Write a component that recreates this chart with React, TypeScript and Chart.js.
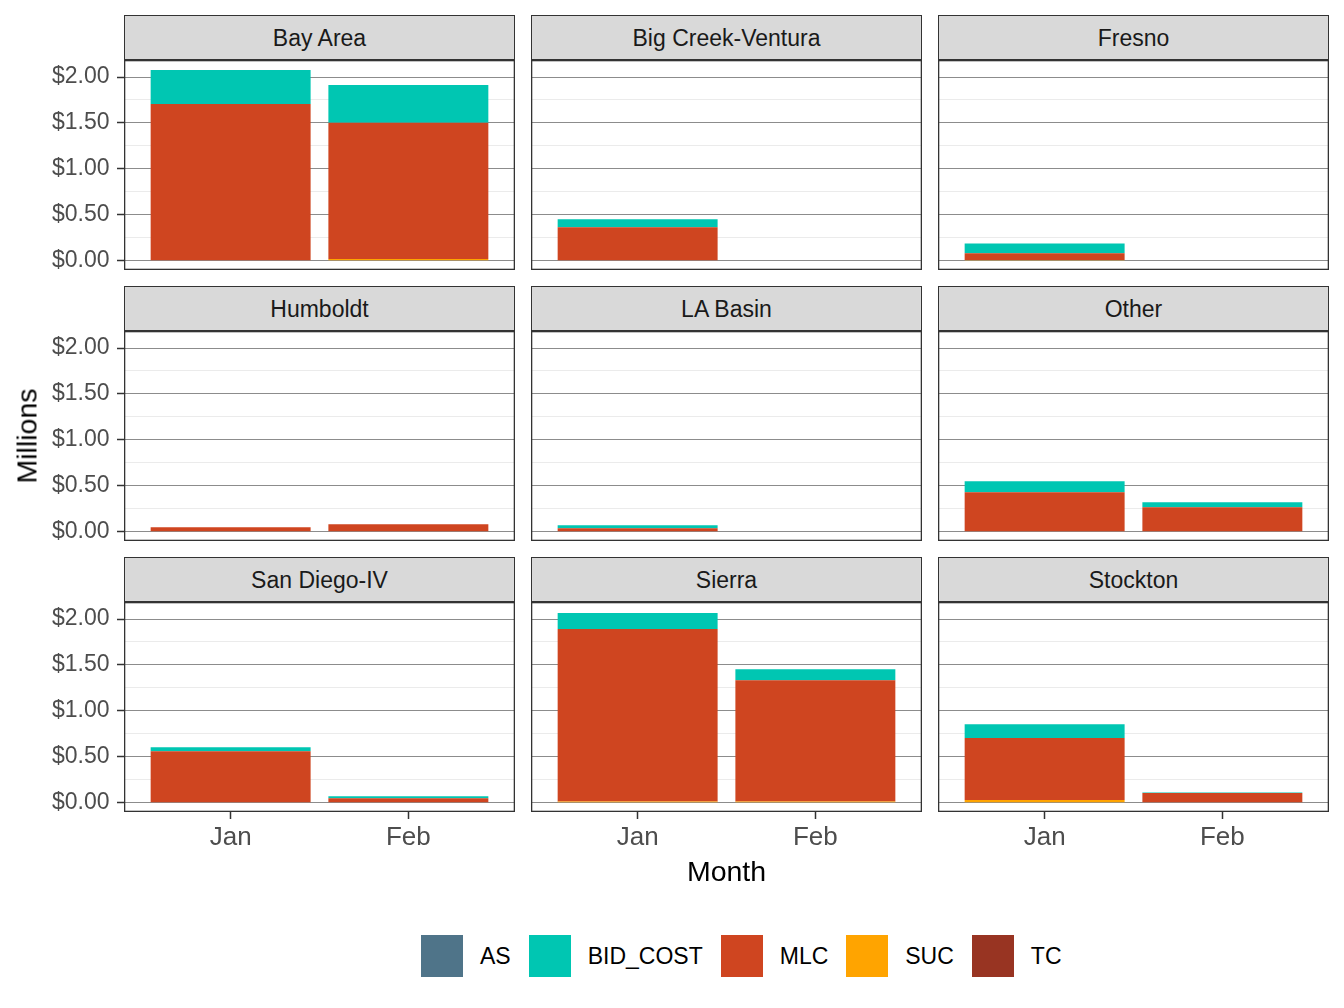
import { useEffect, useRef } from "react";
import { Chart, registerables } from "chart.js";

Chart.register(...registerables);

const FONT = "'Liberation Sans', Arial, Helvetica, sans-serif";

const regions = [
  "Bay Area",
  "Big Creek-Ventura",
  "Fresno",
  "Humboldt",
  "LA Basin",
  "Other",
  "San Diego-IV",
  "Sierra",
  "Stockton",
];
const months = ["Jan", "Feb"];

const seriesNames = ["AS", "BID_COST", "MLC", "SUC", "TC"];
const seriesColors = ["#4F7489", "#00C6B2", "#CF4520", "#FFA400", "#983422"];

// millions, one [Jan, Feb] pair per region
const asCost = [
  [0, 0], [0, 0], [0, 0],
  [0, 0], [0, 0], [0, 0],
  [0, 0], [0, 0], [0, 0],
];
const bidCost = [
  [0.37, 0.41], [0.087, 0], [0.105, 0],
  [0, 0], [0.033, 0], [0.12, 0.054],
  [0.044, 0.022], [0.174, 0.12], [0.149, 0.004],
];
const mlcCost = [
  [1.7, 1.483], [0.365, 0], [0.072, 0],
  [0.049, 0.082], [0.038, 0], [0.425, 0.267],
  [0.561, 0.049], [1.875, 1.319], [0.676, 0.107],
];
const sucCost = [
  [0, 0.02], [0, 0], [0.01, 0],
  [0, 0], [0, 0], [0.005, 0],
  [0, 0], [0.015, 0.015], [0.03, 0],
];
const tcCost = [
  [0.005, 0], [0, 0], [0, 0],
  [0, 0], [0, 0], [0, 0],
  [0, 0], [0, 0], [0, 0],
];
const seriesValues = [asCost, bidCost, mlcCost, sucCost, tcCost];

const yMajorTicks = [0, 0.5, 1, 1.5, 2];
const yMinorTicks = [0.25, 0.75, 1.25, 1.75];

// layout (px)
const COL_X = [124, 531, 938];
const STRIP_TOP = [15, 286, 557];
const STRIP_H = 45;
const PANEL_W = 391;
const PANEL_H = 210;
const Y_AXIS_W = 124;
const X_AXIS_H = 50;

// ggplot stacks the first factor level on top, so draw from the last one up
const stackOrder = [4, 3, 2, 1, 0];

const panelBorder = {
  id: "panelBorder",
  afterDraw(chart: Chart) {
    const { ctx, chartArea: a } = chart;
    ctx.save();
    ctx.strokeStyle = "#333333";
    ctx.lineWidth = 1.3;
    ctx.strokeRect(a.left + 0.65, a.top + 0.65, a.right - a.left - 1.3, a.bottom - a.top - 1.3);
    ctx.restore();
  },
};

const isMajor = (v: number) => yMajorTicks.some((t) => Math.abs(t - v) < 1e-6);

function Panel({ index }: { index: number }) {
  const chartRef = useRef<HTMLCanvasElement>(null);
  const chartInstance = useRef<Chart | null>(null);
  const col = index % 3;
  const row = Math.floor(index / 3);
  const showY = col === 0;
  const showX = row === 2;

  useEffect(() => {
    if (!chartRef.current) return;
    if (chartInstance.current) chartInstance.current.destroy();
    const ctx = chartRef.current.getContext("2d");
    if (!ctx) return;

    chartInstance.current = new Chart(ctx, {
      type: "bar",
      data: {
        datasets: stackOrder.map((k) => ({
          label: seriesNames[k],
          data: months.map((_, j) => ({ x: j + 1, y: seriesValues[k][index][j] })),
          backgroundColor: seriesColors[k],
          borderWidth: 0,
          barPercentage: 0.9,
          categoryPercentage: 1,
          stack: "cost",
        })),
      },
      options: {
        animation: false,
        responsive: true,
        maintainAspectRatio: false,
        layout: { padding: 0 },
        plugins: {
          legend: { display: false },
          tooltip: { enabled: false },
        },
        scales: {
          x: {
            type: "linear",
            min: 0.4,
            max: 2.6,
            offset: false,
            stacked: true,
            display: showX,
            border: { display: false },
            grid: {
              display: true,
              offset: false,
              drawOnChartArea: false,
              drawTicks: true,
              tickLength: 7,
              tickColor: "#333333",
              tickWidth: 1.5,
            },
            afterBuildTicks: (s: any) => {
              s.ticks = months.map((_, j) => ({ value: j + 1 }));
            },
            afterFit: (s: any) => {
              s.height = showX ? X_AXIS_H : 0;
              s.paddingLeft = 0;
              s.paddingRight = 0;
            },
            ticks: {
              callback: (v: any) => months[Number(v) - 1] ?? "",
              color: "#4D4D4D",
              font: { family: FONT, size: 26 },
              padding: 3,
              maxRotation: 0,
              autoSkip: false,
            },
          },
          y: {
            type: "linear",
            min: -0.1,
            max: 2.185,
            stacked: true,
            border: { display: false },
            grid: {
              color: (c: any) => (isMajor(c.tick?.value ?? 0) ? "#8C8C8C" : "#EBEBEB"),
              lineWidth: 1,
              drawTicks: showY,
              tickLength: 7,
              tickColor: (c: any) => (isMajor(c.tick?.value ?? 0) ? "#333333" : "rgba(0,0,0,0)"),
              tickWidth: 1.5,
            },
            afterBuildTicks: (s: any) => {
              s.ticks = [...yMajorTicks, ...yMinorTicks]
                .sort((a, b) => a - b)
                .map((v) => ({ value: v }));
            },
            afterFit: (s: any) => {
              s.width = showY ? Y_AXIS_W : 0;
              s.paddingTop = 0;
              s.paddingBottom = 0;
            },
            ticks: {
              display: showY,
              callback: (v: any) => (isMajor(Number(v)) ? "$" + Number(v).toFixed(2) : ""),
              color: "#4D4D4D",
              font: { family: FONT, size: 23 },
              padding: 7.5,
              autoSkip: false,
            },
          },
        },
      },
      plugins: [panelBorder],
    });

    return () => {
      if (chartInstance.current) {
        chartInstance.current.destroy();
        chartInstance.current = null;
      }
    };
  }, [index]);

  const left = showY ? COL_X[col] - Y_AXIS_W : COL_X[col];
  const top = STRIP_TOP[row] + STRIP_H;

  return (
    <>
      <div
        style={{
          position: "absolute",
          left: COL_X[col],
          top: STRIP_TOP[row],
          width: PANEL_W,
          height: STRIP_H,
          boxSizing: "border-box",
          border: "1.3px solid #333333",
          background: "#D9D9D9",
          display: "flex",
          alignItems: "center",
          justifyContent: "center",
          paddingTop: 1,
          fontFamily: FONT,
          fontSize: 23,
          color: "#1A1A1A",
        }}
      >
        {regions[index]}
      </div>
      <div
        style={{
          position: "absolute",
          left,
          top,
          width: PANEL_W + (showY ? Y_AXIS_W : 0),
          height: PANEL_H + (showX ? X_AXIS_H : 0),
        }}
      >
        <canvas ref={chartRef} />
      </div>
    </>
  );
}

export default function App() {
  return (
    <div
      style={{
        position: "absolute",
        left: 0,
        top: 0,
        width: 1344,
        height: 1008,
        background: "#FFFFFF",
        overflow: "hidden",
        fontFamily: FONT,
      }}
    >
      {regions.map((_, i) => (
        <Panel key={i} index={i} />
      ))}

      <div
        style={{
          position: "absolute",
          left: 27,
          top: 436,
          transform: "translate(-50%, -50%) rotate(-90deg)",
          fontSize: 28.5,
          color: "#000000",
          whiteSpace: "nowrap",
        }}
      >
        Millions
      </div>
      <div
        style={{
          position: "absolute",
          left: 726.5,
          top: 871,
          transform: "translate(-50%, -50%)",
          fontSize: 28.5,
          color: "#000000",
          whiteSpace: "nowrap",
        }}
      >
        Month
      </div>

      <div
        style={{
          position: "absolute",
          left: 421,
          top: 935,
          height: 42,
          display: "flex",
          alignItems: "center",
          fontSize: 23,
          color: "#000000",
          whiteSpace: "nowrap",
        }}
      >
        {seriesNames.map((name, i) => (
          <div key={name} style={{ display: "flex", alignItems: "center", marginRight: i < seriesNames.length - 1 ? 18 : 0 }}>
            <div style={{ width: 42, height: 42, background: seriesColors[i], marginRight: 17 }} />
            <span>{name}</span>
          </div>
        ))}
      </div>
    </div>
  );
}
